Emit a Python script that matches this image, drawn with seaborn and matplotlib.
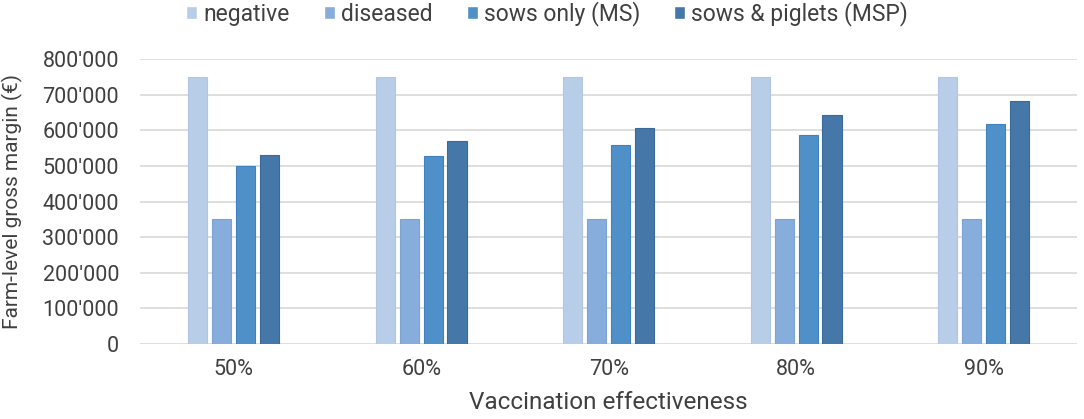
import seaborn as sns
import matplotlib.pyplot as plt
import matplotlib.ticker as mticker
import pandas as pd

effectiveness = ["50%", "60%", "70%", "80%", "90%"]
negative = [750000, 750000, 750000, 750000, 750000]
diseased = [350000, 350000, 350000, 350000, 350000]
sows_only = [500000, 528000, 558000, 588000, 619000]
sows_piglets = [532000, 569000, 606000, 643000, 682000]

series = ["negative", "diseased", "sows only (MS)", "sows & piglets (MSP)"]
colors = ["#B7CDE8", "#86ADDC", "#5090C9", "#4577A8"]
edges = ["#B0C6E4", "#7BA3D3", "#3F82C0", "#3A6A9A"]

rows = []
for name, vals in zip(series, [negative, diseased, sows_only, sows_piglets]):
    for eff, v in zip(effectiveness, vals):
        rows.append({"eff": eff, "series": name, "margin": v})
df = pd.DataFrame(rows)

sns.set_theme(style="white")
plt.rcParams['font.family'] = ['Roboto', 'DejaVu Sans']

fig, ax = plt.subplots(figsize=(10.84, 4.19), dpi=100)
fig.subplots_adjust(left=0.129, right=0.994, top=0.859, bottom=0.179)

sns.barplot(data=df, x="eff", y="margin", hue="series", hue_order=series,
            palette=colors, width=0.51, gap=0.2, ax=ax, saturation=1)

for cont, ec in zip(ax.containers, edges):
    for p in cont:
        p.set_edgecolor(ec)
        p.set_linewidth(0.8)

ax.set_ylim(0, 800000)
ax.set_yticks(range(0, 800001, 100000))
ax.yaxis.set_major_formatter(mticker.FuncFormatter(
    lambda v, pos: "0" if v == 0 else f"{int(v):,}".replace(",", "'")))
ax.grid(axis="y", color="#D9D9D9", linewidth=1.2)
ax.set_axisbelow(True)
for s in ["top", "right", "left", "bottom"]:
    ax.spines[s].set_visible(False)
ax.tick_params(axis="both", length=0, labelsize=15.5, colors="#404040")
ax.tick_params(axis="x", pad=11)
ax.tick_params(axis="y", pad=15)

ax.set_xlabel("Vaccination effectiveness", fontsize=17.5, color="#404040")
ax.set_ylabel("Farm-level gross margin (€)", fontsize=15, color="#404040")
ax.xaxis.set_label_coords(0.5, -0.165)
ax.yaxis.set_label_coords(-0.125, 0.5)

handles, labels = ax.get_legend_handles_labels()
ax.legend(handles, labels, loc="center left", bbox_to_anchor=(186 / 1084, 1 - 14 / 419),
          bbox_transform=fig.transFigure, ncol=4, frameon=False,
          fontsize=16.5, handlelength=0.48, handleheight=0.48,
          handletextpad=0.26, columnspacing=1.5, labelcolor="#404040",
          borderpad=0, borderaxespad=0)

fig.savefig("out.png", dpi=100)
